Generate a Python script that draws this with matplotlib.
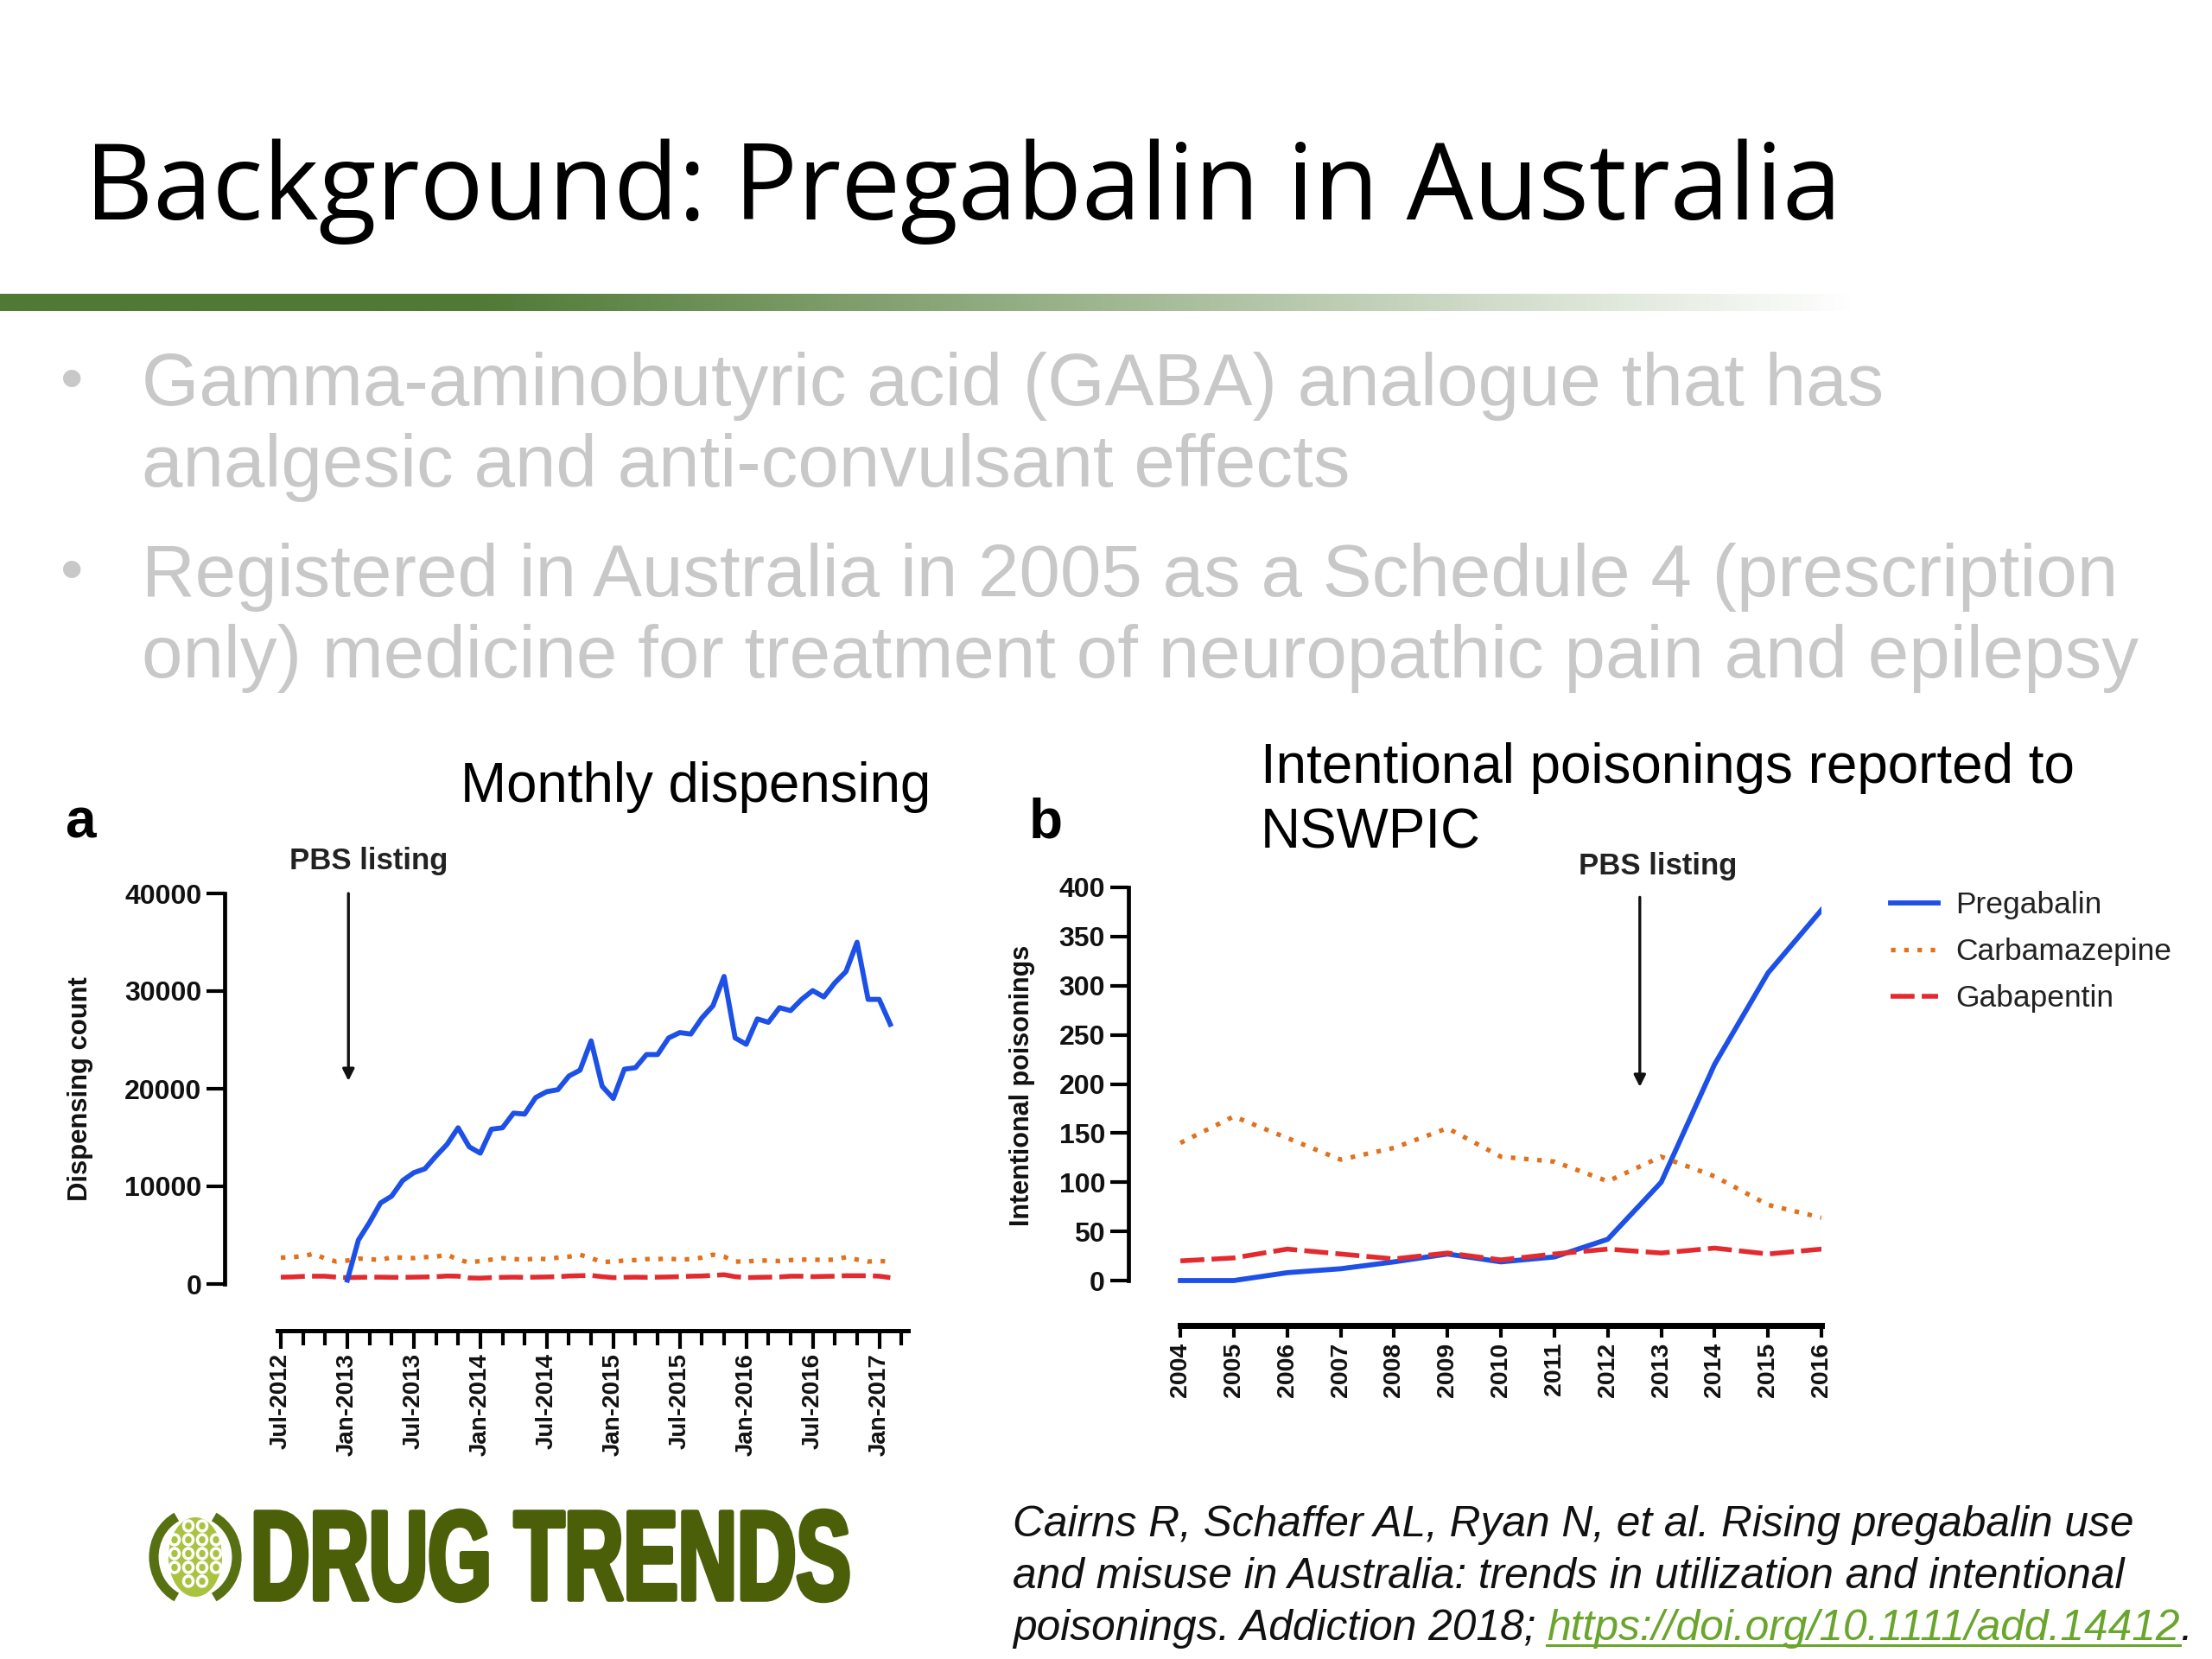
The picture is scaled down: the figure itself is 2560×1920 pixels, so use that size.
import numpy as np
import matplotlib
matplotlib.use("Agg")
import matplotlib.pyplot as plt
import matplotlib.patheffects as pe
from matplotlib.patches import Ellipse, Arc
from matplotlib.transforms import Affine2D

W, H = 2560, 1920

# panel a, monthly values, Jul-2012 to Feb-2017
month_ticks = ["Jul-2012", "Jan-2013", "Jul-2013", "Jan-2014", "Jul-2014", "Jan-2015",
               "Jul-2015", "Jan-2016", "Jul-2016", "Jan-2017"]
pregabalin_monthly = [400, 4500, 6300, 8300, 9000, 10600, 11400, 11800, 13100, 14300, 16000, 14050,
                      13400, 15850, 16000, 17500, 17400, 19100, 19700, 19900, 21300, 21900, 24900, 20250,
                      19000, 22000, 22150, 23500, 23500, 25200, 25750, 25600, 27250, 28500, 31500, 25200,
                      24550, 27150, 26800, 28300, 28000, 29150, 30050, 29400, 30850, 32000, 35000, 29150,
                      29150, 26600]
carbamazepine_monthly = [2700, 2750, 2850, 3100, 2600, 2300, 2400, 2600, 2550, 2450, 2750, 2700,
                         2650, 2750, 2800, 3000, 2500, 2200, 2350, 2500, 2650, 2550, 2500, 2600,
                         2550, 2700, 2800, 3000, 2650, 2250, 2300, 2400, 2450, 2550, 2550, 2600,
                         2500, 2550, 2700, 3000, 2800, 2300, 2300, 2400, 2400, 2350, 2450, 2500,
                         2500, 2450, 2500, 2750, 2500, 2300, 2350, 2300]
gabapentin_monthly = [700, 720, 780, 800, 800, 700, 650, 680, 700, 700, 680, 680,
                      700, 720, 750, 820, 800, 620, 600, 650, 680, 700, 680, 700,
                      720, 750, 820, 850, 880, 750, 650, 680, 700, 680, 700, 720,
                      750, 800, 820, 880, 950, 750, 650, 680, 700, 720, 800, 800,
                      750, 780, 800, 850, 850, 850, 800, 650]

# panel b, yearly values
years = list(range(2004, 2017))
pregabalin_yearly = [0, 0, 8, 12, 19, 27, 19, 24, 42, 100, 220, 313, 377]
carbamazepine_yearly = [140, 167, 145, 123, 135, 155, 126, 121, 101, 126, 106, 77, 64]
gabapentin_yearly = [20, 23, 32, 27, 22, 28, 21, 27, 32, 28, 33, 27, 32]

BLUE = "#1d50e6"
ORANGE = "#e2711d"
RED = "#e32b2f"
GREY = "#c8c8c8"
LOGO = "#4a5f08"

plt.rcParams["font.family"] = ["Liberation Sans", "DejaVu Sans"]


class TallLetters(pe.AbstractPathEffect):
    # stretches the drawn glyphs up from the baseline, the logo lettering is tall and tight
    def __init__(self, sy, y0, stroke):
        super().__init__()
        self.sy, self.y0, self.stroke = sy, y0, stroke

    def draw_path(self, renderer, gc, tpath, affine, rgbFace=None):
        tall = affine + Affine2D().translate(0, -self.y0).scale(1, self.sy).translate(0, self.y0)
        gc0 = renderer.new_gc()
        gc0.copy_properties(gc)
        gc0.set_linewidth(self.stroke)
        gc0.set_foreground(rgbFace)
        renderer.draw_path(gc0, tpath, tall, rgbFace)
        gc0.restore()


fig = plt.figure(figsize=(W / 100, H / 100), dpi=100, facecolor="white")

# page layer in pixel coordinates
page = fig.add_axes([0, 0, 1, 1])
page.set_xlim(0, W)
page.set_ylim(H, 0)
page.axis("off")


def panel_axes(left, right, top, bottom):
    return fig.add_axes([left / W, 1 - bottom / H, (right - left) / W, (bottom - top) / H],
                        facecolor="none")


# header
page.text(98, 254, "Background: Pregabalin in Australia", family=["Open Sans", "DejaVu Sans"],
          fontsize=88.4, color="black", va="baseline")
fade = np.ones((1, 400, 4))
fade[0, :, :3] = matplotlib.colors.to_rgb("#4f7a35")
fade[0, :, 3] = np.clip(np.linspace(1.35, 0, 400), 0, 1)
page.imshow(fade, extent=(0, 2150, 360, 340), aspect="auto", interpolation="bilinear")
page.set_xlim(0, W)
page.set_ylim(H, 0)

# bullets
for y, s in [(469, "Gamma-aminobutyric acid (GABA) analogue that has"),
             (563, "analgesic and anti-convulsant effects"),
             (690, "Registered in Australia in 2005 as a Schedule 4 (prescription"),
             (784, "only) medicine for treatment of neuropathic pain and epilepsy")]:
    page.text(164, y, s, fontsize=61.5, color=GREY, va="baseline")
for y in (469, 690):
    page.text(70, y - 6, "•", fontsize=54, color=GREY, va="baseline")

# panel titles
page.text(533, 928, "Monthly dispensing", fontsize=45.8, va="baseline")
page.text(1459, 906, "Intentional poisonings reported to", fontsize=45.9, va="baseline")
page.text(1459, 982, "NSWPIC", fontsize=45.9, va="baseline")
page.text(75, 969, "a", fontsize=46, fontweight="bold", va="baseline")
page.text(1191, 969, "b", fontsize=46, fontweight="bold", va="baseline")
page.text(335, 1006, "PBS listing", fontsize=25, fontweight="bold", color="#222222", va="baseline")
page.text(1827, 1012, "PBS listing", fontsize=25, fontweight="bold", color="#222222", va="baseline")
page.text(93, 1260, "Dispensing count", fontsize=22.3, fontweight="bold", rotation=90,
          ha="center", va="center", color="#111111")
page.text(1183, 1256, "Intentional poisonings", fontsize=22, fontweight="bold", rotation=90,
          ha="center", va="center", color="#111111")

# panel a
ax = panel_axes(260, 1056, 1034, 1539.5)
months = np.arange(len(carbamazepine_monthly))
ax.plot(months, carbamazepine_monthly, color=ORANGE, lw=3.8, dashes=(1, 1.9))
ax.plot(months, gabapentin_monthly, color=RED, lw=4, dashes=(5, 1.5))
ax.plot(months[6:], pregabalin_monthly, color=BLUE, lw=4.2)
ax.set_xlim(-5.07, 57)
ax.set_ylim(-(1539.5 - 1486) / (1486 - 1034) * 40000, 40000)
ax.set_yticks([0, 10000, 20000, 30000, 40000])
ax.set_xticks(np.arange(0, 55, 6))
ax.set_xticklabels(month_ticks, rotation=90)
ax.set_xticks(np.arange(0, 58, 2), minor=True)
ax.annotate("", xy=(6.1, 20800), xytext=(6.1, 40000),
            arrowprops=dict(arrowstyle="-|>,head_width=0.4,head_length=0.8", color="#111111", lw=2.4,
                            shrinkA=0, shrinkB=0))
for s in ("top", "right"):
    ax.spines[s].set_visible(False)
ax.spines["left"].set_bounds(0, 40000)
ax.spines["bottom"].set_bounds(-0.3, 56.6)

# panel b
bx = panel_axes(1305.5, 2108, 1027, 1534)
l_preg, = bx.plot(years, pregabalin_yearly, color=BLUE, lw=4.2, label="Pregabalin")
l_carb, = bx.plot(years, carbamazepine_yearly, color=ORANGE, lw=3.8, dashes=(1, 1.9), label="Carbamazepine")
l_gaba, = bx.plot(years, gabapentin_yearly, color=RED, lw=4, dashes=(5, 1.5), label="Gabapentin")
bx.set_xlim(2003.02, 2016)
bx.set_ylim(-(1534 - 1482) / (1482 - 1027) * 400, 400)
bx.set_yticks(range(0, 401, 50))
bx.set_xticks(years)
bx.set_xticklabels(years, rotation=90)
bx.annotate("", xy=(2012.6, 197), xytext=(2012.6, 390),
            arrowprops=dict(arrowstyle="-|>,head_width=0.4,head_length=0.8", color="#111111", lw=2.4,
                            shrinkA=0, shrinkB=0))
for s in ("top", "right"):
    bx.spines[s].set_visible(False)
bx.spines["left"].set_bounds(0, 400)
bx.spines["bottom"].set_bounds(2004, 2016)

for a in (ax, bx):
    a.patch.set_alpha(0)
    a.spines["left"].set_linewidth(3.4)
    a.spines["bottom"].set_linewidth(3.6)
    a.tick_params(axis="y", length=15, width=3, labelsize=23, pad=4, labelcolor="#111111")
    a.tick_params(axis="x", which="major", length=15, width=3, labelsize=20, pad=4, labelcolor="#111111")
    a.tick_params(axis="x", which="minor", length=12, width=3)
    for t in a.get_xticklabels() + a.get_yticklabels():
        t.set_fontweight("bold")
bx.spines["bottom"].set_linewidth(5)
bx.tick_params(axis="x", which="major", length=10, pad=4, labelsize=20.5)

fig.legend(handles=[l_preg, l_carb, l_gaba], loc="upper left", frameon=False, fontsize=25.5,
           labelcolor="#222222", bbox_to_anchor=(2188 / W, 1 - 1031 / H), borderpad=0, borderaxespad=0,
           handlelength=1.55, handletextpad=0.58, labelspacing=0.6)

# citation
cite = dict(fontsize=35.7, style="italic", va="baseline", color="#111111")
page.text(1172, 1778, "Cairns R, Schaffer AL, Ryan N, et al. Rising pregabalin use", **cite)
page.text(1172, 1838, "and misuse in Australia: trends in utilization and intentional", **cite)
page.text(1172, 1898, "poisonings. Addiction 2018;", **cite)
link = page.text(1790, 1898, "https://doi.org/10.1111/add.14412", fontsize=35.8, style="italic",
                 va="baseline", color="#6aa52d")
fig.canvas.draw()
box = link.get_window_extent()
page.plot([box.x0, box.x1], [1904, 1904], color="#6aa52d", lw=2.2)
page.text(box.x1 + 1, 1898, ".", **cite)

# logo
page.text(290, 1851, "DRUG TRENDS", fontsize=68.2, fontweight="bold", color=LOGO, va="baseline",
          path_effects=[TallLetters(1.55, H - 1851, 4)])
page.add_patch(Ellipse((226, 1802), 62, 92, facecolor="#a9c23f", edgecolor="none"))
page.add_patch(Arc((226, 1802), 96, 104, theta1=115, theta2=245, color="#567012", lw=8))
page.add_patch(Arc((226, 1802), 96, 104, theta1=-65, theta2=65, color="#567012", lw=8))
for cx in np.arange(202, 252, 16):
    for cy in np.arange(1766, 1842, 16):
        if ((cx - 226) / 30) ** 2 + ((cy - 1802) / 43) ** 2 < 1:
            page.add_patch(Ellipse((cx, cy), 11, 12, facecolor="none", edgecolor="white", lw=2.5))
page.set_xlim(0, W)
page.set_ylim(H, 0)

fig.savefig("out.png", dpi=100)
